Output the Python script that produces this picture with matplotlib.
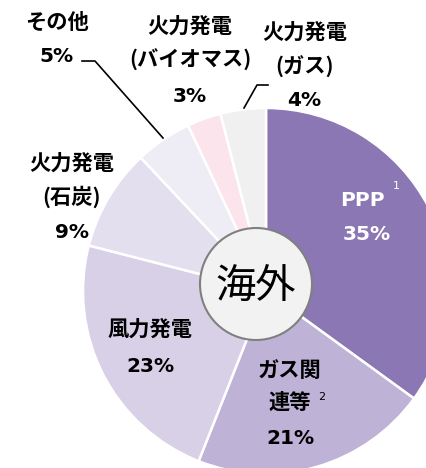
import matplotlib
matplotlib.use("Agg")
import matplotlib.pyplot as plt
from matplotlib.patches import Circle

plt.rcParams['font.family'] = ['Noto Sans CJK JP', 'DejaVu Sans']

# Share of overseas business by segment (clockwise from 12 o'clock)
segments = ["PPP", "ガス関連等", "風力発電", "火力発電(石炭)", "その他",
            "火力発電(バイオマス)", "火力発電(ガス)"]
shares = [35, 21, 23, 9, 5, 3, 4]
colors = ["#8a77b3", "#beb2d6", "#d8d0e6", "#e4dfee", "#eeecf4",
          "#fce4ec", "#f0f0f0"]
center_label = "海外"

W, H = 427, 468
fig = plt.figure(figsize=(W / 100, H / 100), dpi=100)
ax = fig.add_axes([0, 0, 1, 1])


def Y(py):
    return H - py


cx, cy, r = 266, Y(291), 183
ax.pie(shares, colors=colors, startangle=90, counterclock=False,
       center=(cx, cy), radius=r, frame=True,
       wedgeprops=dict(edgecolor="white", linewidth=1.8))
ax.set_xlim(0, W)
ax.set_ylim(0, H)
ax.set_aspect("equal")
ax.axis("off")

# center badge
ax.add_patch(Circle((256, Y(284)), 56, facecolor="#f2f2f2",
                    edgecolor="#808080", linewidth=1.5, zorder=5))
ax.text(256, Y(286), center_label, ha="center", va="center",
        fontsize=29, zorder=6)

JP = ['Noto Sans CJK JP', 'DejaVu Sans']
LAT = ['DejaVu Sans', 'Noto Sans CJK JP']


def lbl(x, y, s, color="black"):
    ax.text(x, Y(y), s, ha="center", va="center", fontsize=15.3,
            fontweight="bold", color=color, family=JP, zorder=7)


def num(x, y, s, color="black"):
    ax.text(x, Y(y), s, ha="center", va="center", fontsize=14.5,
            fontweight="bold", color=color, family=LAT, zorder=7)


def sup(x, y, s, color="black"):
    ax.text(x, Y(y), s, ha="left", va="center", fontsize=8,
            color=color, family=LAT, zorder=7)


def pct(v):
    return f"{v}%"


# PPP
num(362, 200, "PPP", "white")
sup(393, 186, "1", "white")
num(367, 235, pct(shares[0]), "white")
# gas related
lbl(290, 370, "ガス関")
lbl(290, 402, "連等")
sup(318, 397, "2")
num(290, 438, pct(shares[1]))
# wind
lbl(150, 329, "風力発電")
num(150, 366, pct(shares[2]))
# coal
lbl(72, 163, "火力発電")
lbl(72, 197, "(石炭)")
num(72, 232, pct(shares[3]))
# other
lbl(57, 22, "その他")
num(57, 56, pct(shares[4]))
ax.plot([82, 95, 163], [Y(61), Y(61), Y(138)], color="black", lw=1.2, zorder=7)
# biomass
lbl(190, 26, "火力発電")
lbl(190, 60, "(バイオマス)")
num(190, 96, pct(shares[5]))
# gas
lbl(305, 32, "火力発電")
lbl(305, 67, "(ガス)")
num(304, 101, pct(shares[6]))
ax.plot([268, 257, 244], [Y(85), Y(85), Y(108)], color="black", lw=1.2, zorder=7)

fig.savefig("out.png", dpi=100)
